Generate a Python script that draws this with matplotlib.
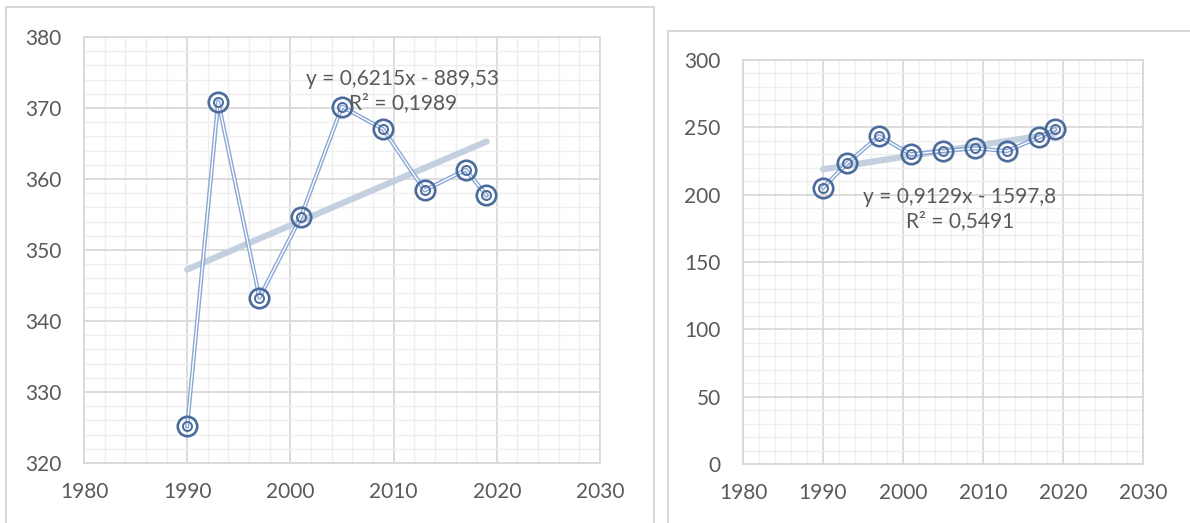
import numpy as np
import matplotlib
matplotlib.use("Agg")
import matplotlib.pyplot as plt
from matplotlib.patches import Rectangle
from matplotlib.ticker import MultipleLocator

plt.rcParams['font.family'] = ['Lato', 'DejaVu Sans']

# data
years = [1990, 1993, 1997, 2001, 2005, 2009, 2013, 2017, 2019]
left_vals = [325.2, 370.9, 343.3, 354.6, 370.2, 367.0, 358.4, 361.3, 357.7]
right_vals = [205.1, 223.2, 243.5, 229.9, 232.4, 234.4, 232.4, 242.5, 248.7]
left_fit = (0.6215, -889.53)
right_fit = (0.9129, -1597.8)
left_eq = ["y = 0,6215x - 889,53", "R² = 0,1989"]
right_eq = ["y = 0,9129x - 1597,8", "R² = 0,5491"]
x_ticks = [1980, 1990, 2000, 2010, 2020, 2030]

W, H = 1190, 523
fig = plt.figure(figsize=(W / 100, H / 100), dpi=100)
fig.patch.set_facecolor('white')

def px_box(x0, y0, x1, y1):
    # pixel box (top-left origin) -> figure fraction
    return [x0 / W, (H - y1) / H, (x1 - x0) / W, (y1 - y0) / H]

# chart borders
for (x0, y0, x1, y1) in [(6, 7, 654, 530), (668, 31, 1200, 530)]:
    fig.patches.append(Rectangle((x0 / W, (H - y1) / H), (x1 - x0) / W, (y1 - y0) / H,
                                 transform=fig.transFigure, fill=False,
                                 edgecolor='#d9d9d9', linewidth=1.5, clip_on=False))

tick_col = '#595959'
mark_col = '#4b6b9c'
line_col = '#8aa7d6'
trend_col = '#c4d0df'

def draw(ax, vals, fit, eq, ylim, ymaj, ymin, eq_pos):
    ax.set_xlim(1980, 2030)
    ax.set_ylim(*ylim)
    ax.xaxis.set_major_locator(MultipleLocator(10))
    ax.xaxis.set_minor_locator(MultipleLocator(2))
    ax.yaxis.set_major_locator(MultipleLocator(ymaj))
    ax.yaxis.set_minor_locator(MultipleLocator(ymin))
    ax.grid(which='major', color='#d9d9d9', linewidth=1.3, zorder=0)
    ax.grid(which='minor', color='#efefef', linewidth=1.0, zorder=0)
    ax.set_axisbelow(True)
    for s in ax.spines.values():
        s.set_color('#d9d9d9')
        s.set_linewidth(1.3)
    ax.tick_params(which='both', length=0)
    ax.tick_params(axis='y', pad=16, labelsize=15, labelcolor=tick_col)
    ax.tick_params(axis='x', pad=14, labelsize=15, labelcolor=tick_col)

    # trend line
    tx = np.array([years[0], years[-1]])
    ax.plot(tx, fit[0] * tx + fit[1], color=trend_col, linewidth=4.5,
            solid_capstyle='round', zorder=2)
    # double data line
    ax.plot(years, vals, color=line_col, linewidth=3.0, zorder=3)
    ax.plot(years, vals, color='white', linewidth=1.0, zorder=3)
    # double circle markers
    ax.plot(years, vals, 'o', markersize=14, markerfacecolor='none',
            markeredgecolor=mark_col, markeredgewidth=1.9, zorder=4)
    ax.plot(years, vals, 'o', markersize=6.5, markerfacecolor='none',
            markeredgecolor=mark_col, markeredgewidth=1.4, zorder=4)

    ax.text(eq_pos[0], eq_pos[1], eq[0] + "\n" + eq[1], ha='center', va='center',
            fontsize=15, color=tick_col, linespacing=1.3, zorder=5)

ax1 = fig.add_axes(px_box(84, 37, 600, 463))
draw(ax1, left_vals, left_fit, left_eq, (320, 380), 10, 2, (2010.9, 372.4))
ax1.set_xticks(x_ticks)

ax2 = fig.add_axes(px_box(743, 60, 1143, 464))
draw(ax2, right_vals, right_fit, right_eq, (0, 300), 50, 10, (2007.1, 189.4))
ax2.set_xticks(x_ticks)

fig.savefig('out.png', dpi=100)
